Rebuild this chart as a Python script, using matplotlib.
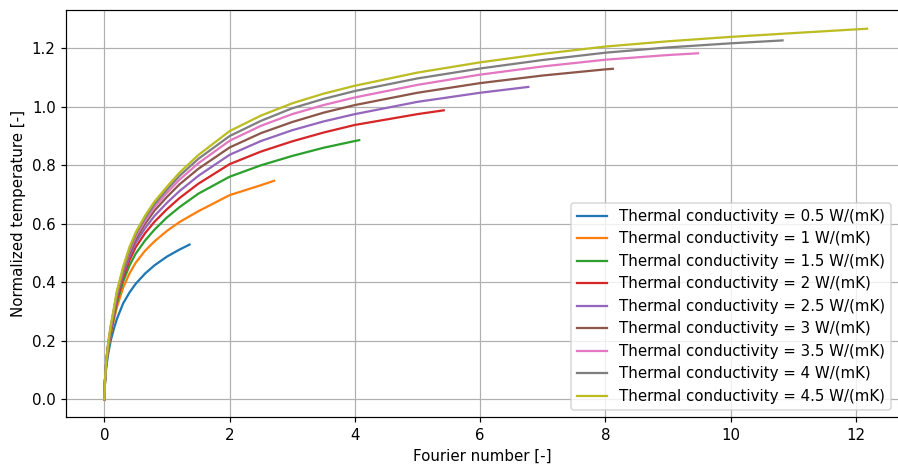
import numpy as np
import matplotlib
matplotlib.use("Agg")
import matplotlib.pyplot as plt

# Thermal conductivities of the simulated cases, W/(mK)
conductivities = [0.5, 1, 1.5, 2, 2.5, 3, 3.5, 4, 4.5]

# Fourier number samples shared by all cases; each case stops at its own end value
fo_grid = [0, 0.01, 0.03, 0.06, 0.1, 0.15, 0.2, 0.3, 0.4, 0.5, 0.65, 0.8, 1.0, 1.2,
           1.5, 2.0, 2.5, 3.0, 3.5, 4.0, 5.0, 6.0, 7.0, 8.0, 9.0, 10.0, 11.0]

fo_end = [1.36, 2.71, 4.07, 5.42, 6.77, 8.12, 9.48, 10.83, 12.18]
temp_end = [0.529, 0.747, 0.886, 0.988, 1.068, 1.130, 1.183, 1.227, 1.267]

# Normalized temperature on fo_grid (only the points below fo_end are used)
temp_k05 = [0, 0.06, 0.11, 0.155, 0.2, 0.24, 0.275, 0.328, 0.365, 0.395, 0.43, 0.458, 0.488, 0.512]
temp_k10 = [0, 0.065, 0.12, 0.17, 0.22, 0.27, 0.315, 0.382, 0.43, 0.467, 0.508, 0.54, 0.576,
            0.606, 0.643, 0.698, 0.732]
temp_k15 = [0, 0.065, 0.125, 0.175, 0.225, 0.28, 0.33, 0.403, 0.457, 0.498, 0.543, 0.58,
            0.622, 0.657, 0.703, 0.761, 0.80, 0.832, 0.86, 0.883]
temp_k20 = [0, 0.065, 0.125, 0.18, 0.23, 0.285, 0.34, 0.418, 0.475, 0.52, 0.568, 0.607,
            0.65, 0.688, 0.737, 0.804, 0.847, 0.882, 0.912, 0.938, 0.975]
temp_k25 = [0, 0.065, 0.13, 0.18, 0.235, 0.29, 0.348, 0.428, 0.488, 0.535, 0.585, 0.627,
            0.672, 0.712, 0.764, 0.836, 0.883, 0.92, 0.95, 0.975, 1.017, 1.048]
temp_k30 = [0, 0.065, 0.13, 0.185, 0.24, 0.295, 0.354, 0.436, 0.498, 0.547, 0.6, 0.645,
            0.692, 0.735, 0.788, 0.861, 0.91, 0.948, 0.98, 1.006, 1.048, 1.081, 1.107, 1.128]
temp_k35 = [0, 0.065, 0.13, 0.185, 0.242, 0.3, 0.36, 0.443, 0.506, 0.556, 0.61, 0.657,
            0.706, 0.751, 0.807, 0.884, 0.935, 0.975, 1.006, 1.032, 1.075, 1.110, 1.138,
            1.161, 1.177]
temp_k40 = [0, 0.065, 0.13, 0.19, 0.246, 0.305, 0.365, 0.448, 0.513, 0.564, 0.62, 0.667,
            0.717, 0.764, 0.822, 0.900, 0.952, 0.995, 1.027, 1.054, 1.097, 1.131, 1.160,
            1.185, 1.203, 1.217]
temp_k45 = [0, 0.065, 0.13, 0.19, 0.25, 0.31, 0.37, 0.454, 0.52, 0.571, 0.628, 0.676,
            0.727, 0.775, 0.835, 0.917, 0.970, 1.012, 1.045, 1.072, 1.117, 1.152, 1.181,
            1.206, 1.224, 1.239, 1.252]

temperatures = [temp_k05, temp_k10, temp_k15, temp_k20, temp_k25,
                temp_k30, temp_k35, temp_k40, temp_k45]

dpi = 108
fig = plt.figure(figsize=(898 / dpi, 469 / dpi), dpi=dpi)
ax = fig.add_axes([0.0737, 0.1102, 0.9274, 0.8685])

for k, temps, f_end, t_end in zip(conductivities, temperatures, fo_end, temp_end):
    fo = fo_grid[:len(temps)] + [f_end]
    t = temps + [t_end]
    ax.plot(fo, t, linewidth=1.5, label=f'Thermal conductivity = {k} W/(mK)')

ax.set_xlim(-0.61, 12.69)
ax.set_ylim(-0.0615, 1.331)
ax.set_xlabel('Fourier number [-]')
ax.set_ylabel('Normalized temperature [-]')
ax.grid(True)
ax.legend(loc='lower right')

fig.savefig('out.png', dpi=dpi)
